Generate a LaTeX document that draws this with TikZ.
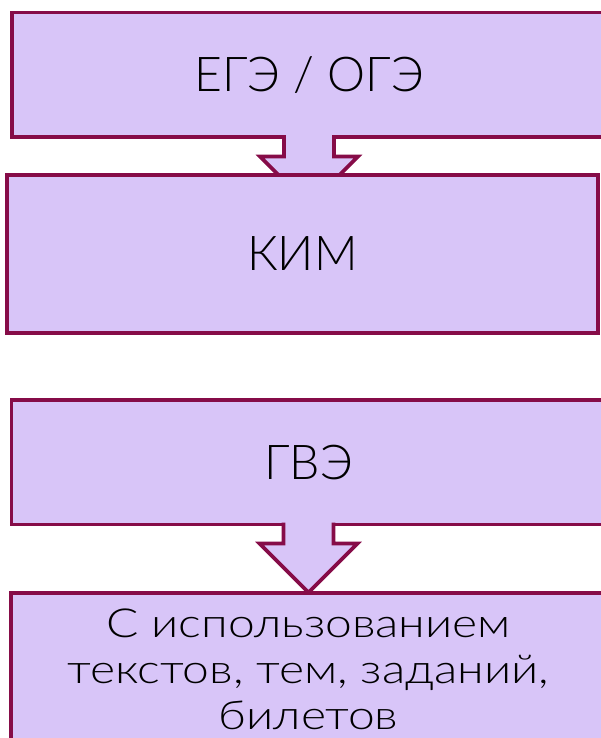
\documentclass[tikz,border=0pt]{standalone}
\usepackage{fontspec}
\setmainfont{Lato Light}
\newfontfamily\widefont[FakeStretch=1.2]{Lato Light}
\usetikzlibrary{calc}
\definecolor{boxfill}{HTML}{D8C5F8}
\definecolor{boxline}{HTML}{860C48}
\tikzset{
  box/.style={draw=boxline, fill=boxfill, line width=3.6pt, rectangle, inner sep=0pt, outer sep=0pt, line join=miter, font=\fontsize{48}{58}\selectfont},
  blockarrow/.style={draw=boxline, line width=3.6pt, line join=miter},
}
\begin{document}
\begin{tikzpicture}[x=1pt,y=-1pt]
\useasboundingbox (0,0) rectangle (600,738);
\fill[white] (0,0) rectangle (600,738);
% box 1
\node[box, minimum width=594pt, minimum height=124.5pt] (ege) at (309,74.75) {ЕГЭ / ОГЭ};
% arrow 1
\fill[boxfill] ($(ege.south)+(-25,-3)$) -- ($(ege.south)+(-25,19.5)$) -- ($(ege.south)+(-49,19.5)$) -- ($(ege.south)+(0,68.5)$) -- ($(ege.south)+(49,19.5)$) -- ($(ege.south)+(25,19.5)$) -- ($(ege.south)+(25,-3)$) -- cycle;
\draw[blockarrow] ($(ege.south)+(-25,-1.8)$) -- ($(ege.south)+(-25,19.5)$) -- ($(ege.south)+(-49,19.5)$) -- ($(ege.south)+(0,68.5)$) coordinate (tip1) -- ($(ege.south)+(49,19.5)$) -- ($(ege.south)+(25,19.5)$) -- ($(ege.south)+(25,-1.8)$);
% box 2
\node[box, minimum width=591pt, minimum height=158pt] (kim) at (302.5,254) {КИМ};
% box 3
\node[box, minimum width=594pt, minimum height=124.5pt] (gve) at (308.5,462.25) {ГВЭ};
% arrow 2
\fill[boxfill] ($(gve.south)+(-25,-3)$) -- ($(gve.south)+(-25,19)$) -- ($(gve.south)+(-49,19)$) -- ($(gve.south)+(0,68)$) -- ($(gve.south)+(49,19)$) -- ($(gve.south)+(25,19)$) -- ($(gve.south)+(25,-3)$) -- cycle;
\draw[blockarrow] ($(gve.south)+(-25,-1.8)$) -- ($(gve.south)+(-25,19)$) -- ($(gve.south)+(-49,19)$) -- ($(gve.south)+(0,68)$) coordinate (tip2) -- ($(gve.south)+(49,19)$) -- ($(gve.south)+(25,19)$) -- ($(gve.south)+(25,-1.8)$);
% box 4
\node[box, minimum width=595pt, minimum height=152pt, align=center, font=\widefont\fontsize{40}{46}\selectfont] (use) at (308.5,669) {С использованием\\текстов, тем, заданий,\\билетов};
\end{tikzpicture}
\end{document}
